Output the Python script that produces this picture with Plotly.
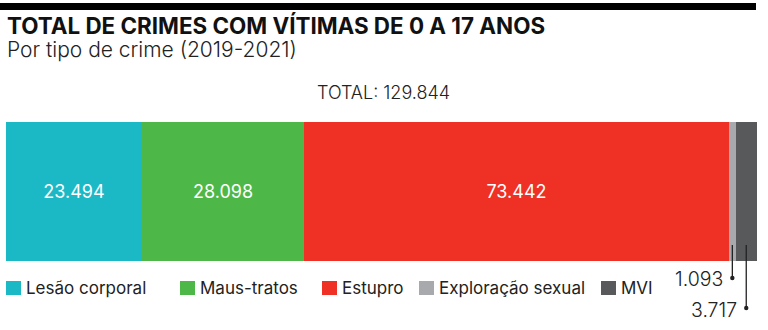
import plotly.graph_objects as go

# ---- data ----
categories = ["Lesão corporal", "Maus-tratos", "Estupro", "Exploração sexual", "MVI"]
values = [23494, 28098, 73442, 1093, 3717]
total_value = 129844
title_text = "TOTAL DE CRIMES COM VÍTIMAS DE 0 A 17 ANOS"
subtitle_text = "Por tipo de crime (2019-2021)"

# ---- style ----
colors = ["#1BB8C6", "#4DB848", "#EE3124", "#A7A9AC", "#58595B"]
W, H = 768, 330
FONT = "Inter"

def px(x):
    return x / W

def py(y):
    return 1 - y / H

fig = go.Figure()
small = [v < 5000 for v in values]
for cat, val, col, sm in zip(categories, values, colors, small):
    fig.add_trace(go.Bar(
        x=[val], y=[0], orientation="h", name=cat,
        marker=dict(color=col, line=dict(width=0)),
        text=None if sm else [val],
        texttemplate=None if sm else "%{x:,}",
        textposition="inside", insidetextanchor="middle",
        textfont=dict(family=FONT, size=18, color="white", weight=400),
        hoverinfo="skip", showlegend=False,
    ))

bar_top, bar_bot = 122, 261
fig.update_layout(
    width=W, height=H, barmode="stack", bargap=0,
    separators=",.",
    margin=dict(l=0, r=0, t=0, b=0),
    paper_bgcolor="white", plot_bgcolor="white",
    xaxis=dict(domain=[px(6), px(757)], range=[0, sum(values)], visible=False, fixedrange=True),
    yaxis=dict(domain=[py(bar_bot), py(bar_top)], range=[-0.5, 0.5], visible=False, fixedrange=True),
    uniformtext=dict(minsize=8),
)

shapes = []
annotations = []
# top rule
shapes.append(dict(type="rect", xref="paper", yref="paper", x0=0, x1=px(756), y0=py(10), y1=py(3),
                   fillcolor="#000000", line=dict(width=0)))
# title / subtitle
annotations.append(dict(text=f"<b>{title_text}</b>", xref="paper", yref="paper", x=px(5), y=py(26),
                        xanchor="left", yanchor="middle", showarrow=False,
                        font=dict(family=FONT, size=22.4, color="#111111", weight=900)))
annotations.append(dict(text=subtitle_text, xref="paper", yref="paper", x=px(5), y=py(50),
                        xanchor="left", yanchor="middle", showarrow=False,
                        font=dict(family=FONT, size=21, color="#222222", weight=300)))
# total
annotations.append(dict(text=f"TOTAL: {total_value:,}".replace(",", "."), xref="paper", yref="paper",
                        x=px(383), y=py(93), xanchor="center", yanchor="middle", showarrow=False,
                        font=dict(family=FONT, size=18, color="#222222", weight=300)))

# callouts for small segments
cum = 0
callout_ends = {3: (278, 279), 4: (308, 310)}
for i, v in enumerate(values):
    mid = cum + v / 2
    cum += v
    if i in callout_ends:
        yend, ylab = callout_ends[i]
        shapes.append(dict(type="line", xref="x", yref="paper", x0=mid, x1=mid, y0=py(245), y1=py(yend),
                           line=dict(color="#222222", width=1.3)))
        shapes.append(dict(type="circle", xref="x", yref="paper", xsizemode="pixel", ysizemode="pixel",
                           xanchor=mid, yanchor=py(yend), x0=-2.2, x1=2.2, y0=-2.2, y1=2.2,
                           fillcolor="#222222", line=dict(width=0)))
        annotations.append(dict(text=f"{v:,}".replace(",", "."), xref="x", yref="paper", x=mid,
                                y=py(ylab), xanchor="right", yanchor="middle", showarrow=False,
                                xshift=-7, font=dict(family=FONT, size=19.5, color="#222222", weight=300)))

# legend (manual)
legend_sq_x = [6, 180, 322, 419, 601]
for cat, col, lx in zip(categories, colors, legend_sq_x):
    shapes.append(dict(type="rect", xref="paper", yref="paper", x0=px(lx), x1=px(lx + 15),
                       y0=py(295), y1=py(281), fillcolor=col, line=dict(width=0)))
    annotations.append(dict(text=cat, xref="paper", yref="paper", x=px(lx + 18), y=py(288),
                            xanchor="left", yanchor="middle", showarrow=False,
                            font=dict(family=FONT, size=17, color="#222222", weight=400)))

fig.update_layout(shapes=shapes, annotations=annotations)
fig.write_html("out.html")
